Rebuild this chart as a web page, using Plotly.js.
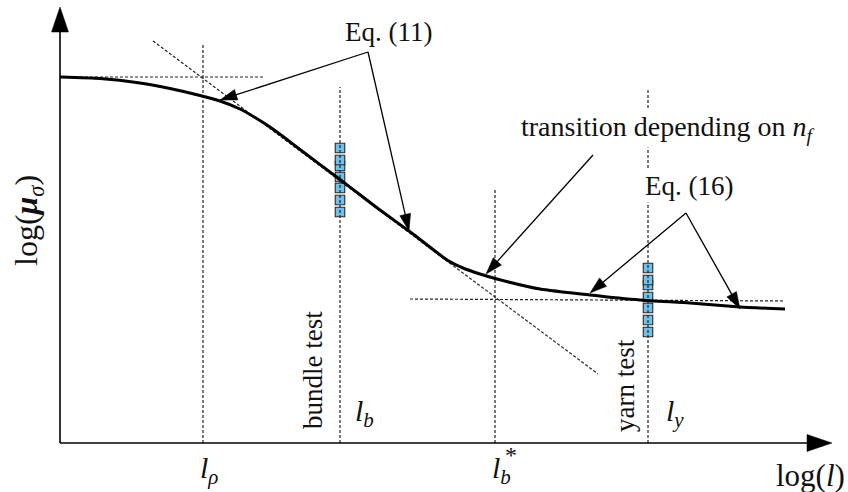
<!DOCTYPE html>
<html>
<head>
<meta charset="utf-8">
<script src="https://cdn.plot.ly/plotly-3.0.1.min.js"></script>
<style>html,body{margin:0;padding:0;background:#fff;}#chart{width:848px;height:492px;}</style>
</head>
<body>
<div id="chart"></div>
<script>
// Schematic coordinates (x: log(l), y: log(mu_sigma)), arbitrary units
const curveX = [60, 100, 140, 170, 200, 220, 240, 255, 270, 285, 300, 340, 363, 380, 413, 447, 463, 480, 497, 540, 590, 640, 690, 740, 785];
const curveY = [366, 364.5, 360, 354.5, 347.5, 342, 334, 325.5, 316, 305, 293.5, 263.5, 246, 233, 209, 183, 175, 169, 164, 154, 148, 143, 140, 136, 134];

const bundleX = [340, 340, 340, 340, 340, 340, 340];
const bundleY = [277, 295, 283, 266, 255, 243, 231];
const yarnX = [648, 648, 648, 648, 648, 648, 648];
const yarnY = [158, 175, 163, 146, 135, 123, 111];

const plateauX = [60, 263], plateauY = [366, 366];
const slopeX = [153, 598], slopeY = [402, 69];
const yarnLevelX = [410, 785], yarnLevelY = [144, 142];
const lRhoX = [203, 203], lRhoY = [0, 400];
const lbX = [340, 340], lbY = [0, 356];
const lbStarX = [495, 495], lbStarY = [0, 253];
const lyX = [648, 648], lyY = [0, 355];

const guideStyle = {color: '#222', width: 1.2, dash: '3px,2px'};
function guide(x, y) {
  return {x: x, y: y, type: 'scatter', mode: 'lines', line: guideStyle, hoverinfo: 'skip', showlegend: false};
}
const sq = {symbol: 'square', size: 9.5, color: '#6fc0ea', line: {color: '#2a2a2a', width: 1.1}};

const traces = [
  {x: bundleX, y: bundleY, type: 'scatter', mode: 'markers', showlegend: false, marker: sq},
  {x: yarnX, y: yarnY, type: 'scatter', mode: 'markers', showlegend: false, marker: sq},
  guide(plateauX, plateauY),
  guide(slopeX, slopeY),
  guide(yarnLevelX, yarnLevelY),
  guide(lRhoX, lRhoY),
  guide(lbX, lbY),
  guide(lbStarX, lbStarY),
  guide(lyX, lyY),
  {x: curveX, y: curveY, type: 'scatter', mode: 'lines', showlegend: false,
   line: {color: '#000', width: 3, shape: 'spline', smoothing: 0.5}}
];

// arrows: tail -> tip
const arrows = [
  [368, 391, 220, 343],
  [368, 391, 409, 212],
  [593, 288, 486, 169],
  [686, 230, 590, 150],
  [686, 230, 740, 134]
];

const shapes = [];
function arrow(x0, y0, x1, y1, len, hw, lw) {
  const dx = x1 - x0, dy = y1 - y0, d = Math.hypot(dx, dy);
  const ux = dx / d, uy = dy / d;
  const bx = x1 - ux * len, by = y1 - uy * len;
  const px = -uy * hw, py = ux * hw;
  shapes.push({type: 'line', xref: 'x', yref: 'y', x0: x0, y0: y0, x1: bx + ux * 2, y1: by + uy * 2,
               line: {color: '#000', width: lw}});
  shapes.push({type: 'path', xref: 'x', yref: 'y',
               path: `M ${x1} ${y1} L ${bx + px} ${by + py} L ${bx - px} ${by - py} Z`,
               fillcolor: '#000', line: {color: '#000', width: 0.5}});
}
// axes
arrow(60, 0, 832, 0, 25, 8.5, 1.6);
arrow(60, 0, 60, 436, 25, 8.5, 1.6);
arrows.forEach(a => arrow(a[0], a[1], a[2], a[3], 17, 5.5, 1.3));

const F = 'Liberation Serif, Times New Roman, serif';
function txt(x, y, text, size, extra) {
  return Object.assign({x: x, y: y, xref: 'x', yref: 'y', text: text, showarrow: false,
    xanchor: 'center', yanchor: 'middle', font: {family: F, size: size, color: '#111'}}, extra || {});
}
const annotations = [
  txt(388, 411, 'Eq. (11)', 27),
  txt(667, 315, 'transition depending on <i>n</i><sub><i>f</i></sub>', 28, {bgcolor: '#fff'}),
  txt(689, 257, 'Eq. (16)', 27, {bgcolor: '#fff'}),
  txt(313, 73, 'bundle test', 27, {textangle: -90}),
  txt(625, 57, 'yarn test', 27, {textangle: -90}),
  txt(364, 30, '<i>l</i><sub><i>b</i></sub>', 30),
  txt(675, 30, '<i>l</i><sub><i>y</i></sub>', 30),
  txt(209, -27, '<i>l</i><sub><i>ρ</i></sub>', 30),
  txt(501, -27, '<i>l</i><sub><i>b</i></sub>', 30),
  txt(511, -12, '*', 24),
  txt(810, -32, 'log(<i>l</i>)', 31),
  txt(28, 222, 'log(<b><i>μ</i></b><sub><i>σ</i></sub>)', 32, {textangle: -90})
];

const layout = {
  width: 848, height: 492,
  margin: {l: 0, r: 0, t: 0, b: 0, pad: 0},
  paper_bgcolor: '#fff', plot_bgcolor: '#fff',
  xaxis: {range: [0, 848], visible: false, fixedrange: true},
  yaxis: {range: [-49, 443], visible: false, fixedrange: true},
  shapes: shapes,
  annotations: annotations,
  showlegend: false
};
Plotly.newPlot('chart', traces, layout, {displayModeBar: false, staticPlot: true});
</script>
</body>
</html>
